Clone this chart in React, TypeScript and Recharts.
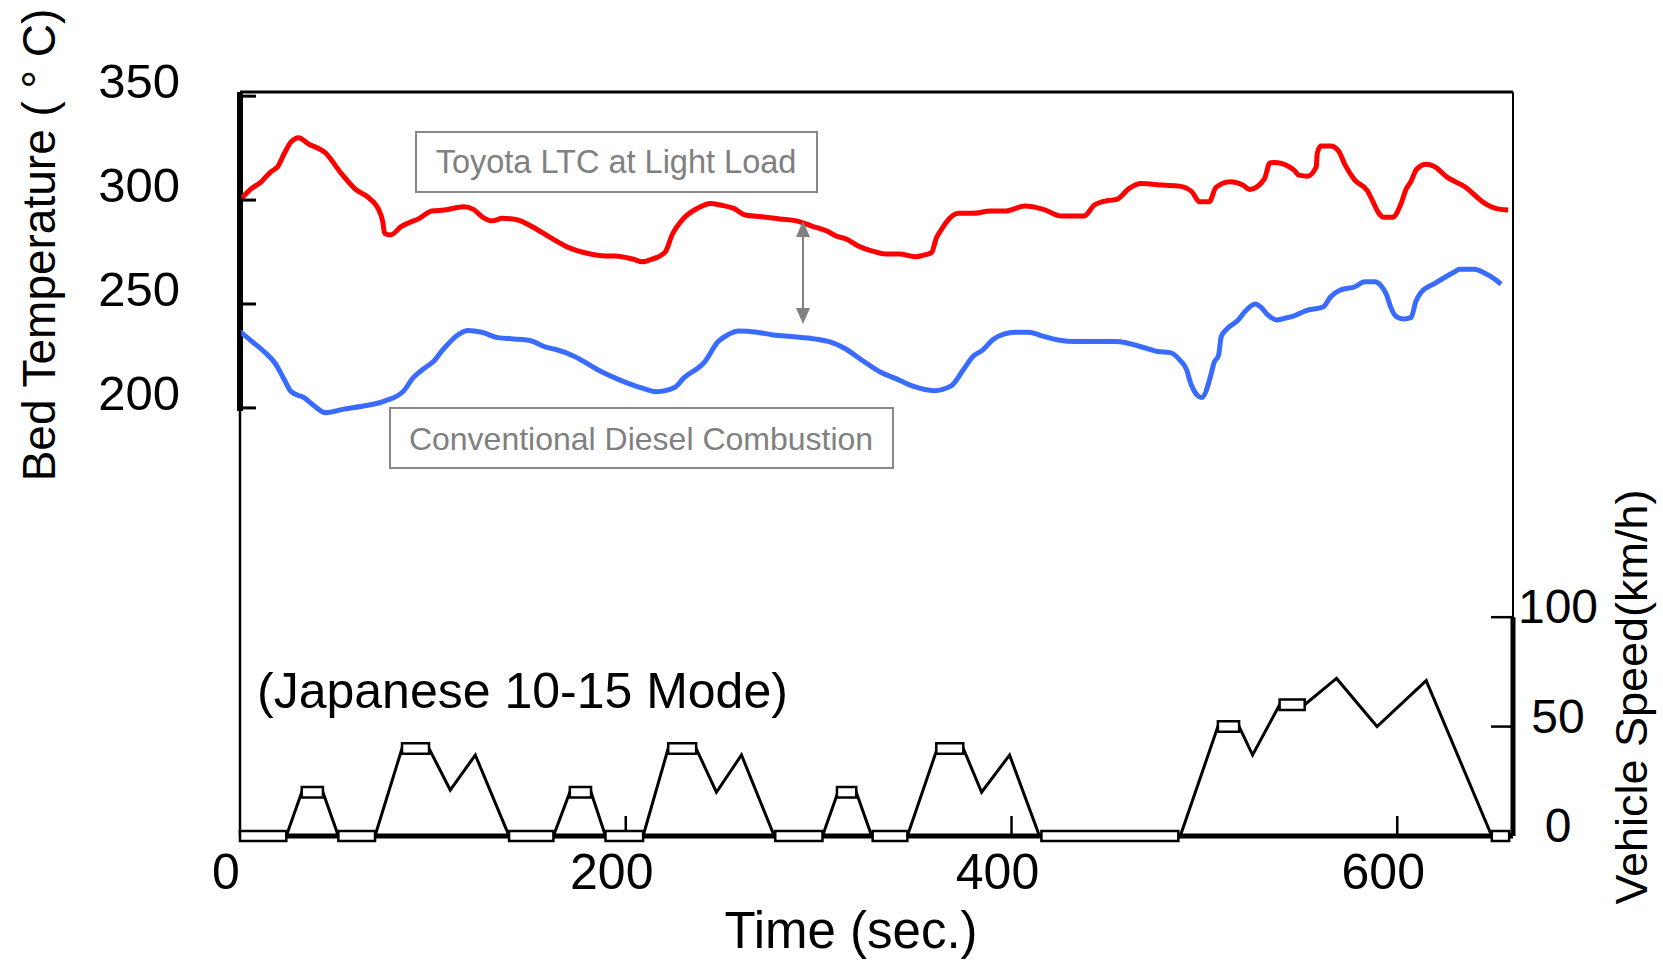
import React from 'react';
import {
  ComposedChart,
  Line,
  XAxis,
  YAxis,
  ReferenceLine,
  ReferenceArea,
} from 'recharts';

const FONT = '"Liberation Sans", Arial, sans-serif';

const TIME_TICKS = [0, 200, 400, 600];
const TEMP_TICKS = [200, 250, 300, 350];
const SPEED_TICKS = [0, 50, 100];

// [time (s), bed temperature (°C)]
const LTC_TRACE: [number, number][] = [
  [0, 300], [5, 304.8], [11, 308.8], [16, 313.6], [19.5, 316], [23, 322.5], [26.5, 328], [30.5, 330],
  [35, 327.3], [44.5, 322.5], [52.5, 312.8], [60, 305.1], [66, 301.6], [72, 295.2], [74, 289.6], [75, 284],
  [78, 283.2], [83.5, 287.2], [93, 291.2], [99.5, 294.7], [106, 295.2], [116, 296.8], [121, 295.5], [126, 291.7],
  [131, 290], [136, 291.2], [144, 290.4], [151.5, 287.2], [161, 281.9], [170.5, 277.1], [180, 274.4], [189.5, 273.1],
  [194.5, 273.1], [204, 271.5], [208.5, 270.3], [213.5, 271.5], [220.5, 275.1], [224, 283.2], [230, 291.2], [237, 296],
  [244, 298.4], [249, 297.6], [256, 296], [262, 292.8], [270.5, 292], [280, 290.9], [288.5, 290], [296.5, 287.5],
  [304, 285.2], [310, 282.4], [313.5, 281.6], [320.5, 277.9], [327.5, 275.6], [335, 274], [342, 274], [350, 272.7],
  [354, 273.4], [358.5, 274.7], [361, 281.6], [363.5, 285.6], [366, 289.1], [372.5, 293.6], [380, 293.6], [389, 294.7],
  [396.5, 294.7], [407, 297.1], [416.5, 295.5], [426, 292.3], [437.5, 292.3], [443, 297.6], [449.5, 299.7], [454.5, 300.3],
  [461, 305.6], [467, 308], [478.5, 307.2], [487, 306.7], [493.5, 304], [497.5, 299.2], [502.5, 299.2], [506, 306.1],
  [513.5, 308.8], [520, 307.2], [523.5, 305.1], [531, 310], [534, 317.9], [536.5, 318.1], [546.5, 314.4], [549, 312],
  [553.5, 311.5], [558, 316], [558.5, 322.5], [560.5, 326], [565.5, 326], [569.5, 323.7], [573, 316.8], [578, 309.6],
  [584.5, 304.5], [587, 300], [590.5, 293.6], [593, 291.7], [597.5, 291.7], [602, 298.4], [604.5, 305.1], [607, 308.8],
  [610, 314.8], [615, 317.2], [619, 316.3], [626, 310.9], [635, 306.4], [645, 298.7], [651, 296], [657.5, 295.2],
];

const CONV_TRACE: [number, number][] = [
  [0, 236.7], [6.3, 231.9], [13.4, 226.3], [18.2, 221.5], [23, 213.5], [26.5, 207.8], [33.6, 204.7], [38.4, 201],
  [44.4, 197.7], [53.9, 199.4], [64.6, 201], [75.3, 203.4], [84.9, 208.2], [89.6, 214.3], [95.6, 219.1], [100.3, 222.3],
  [105.1, 227.9], [113.4, 235.4], [118.2, 237.2], [125.3, 236.4], [133.7, 233.8], [142, 233.2], [150.3, 232.4], [158.6, 229.2],
  [163.4, 228.2], [172.9, 225], [187.2, 217.5], [196.7, 213.5], [208.6, 209.5], [215.8, 207.8], [225.3, 209.8], [230, 214.3],
  [240.8, 222], [247.9, 231.9], [252.7, 235.1], [258.6, 237], [268.1, 236.4], [276.5, 235.1], [286, 234.3], [297.9, 233.2],
  [306.3, 231.6], [313.4, 228.7], [322.9, 222.7], [332.4, 217], [339.5, 214.3], [348.5, 210.6], [359.9, 208.3], [368.7, 210.6],
  [375, 218.3], [380, 224.7], [385.1, 227.9], [390.6, 233], [396.4, 235.6], [401.5, 236.4], [409.1, 236.4], [415.3, 234.8],
  [424.2, 232.7], [433, 231.9], [454.4, 231.9], [465.8, 229.8], [475.9, 227.1], [482.2, 226.6], [487.2, 223.1], [491, 217.9],
  [492.3, 213.5], [496.1, 206.3], [498.6, 205], [503.6, 216.7], [504.9, 221.5], [507.4, 225.5], [508.7, 234.3], [511.2, 237.5],
  [517.5, 242.3], [521.3, 246.6], [526.3, 250], [529.4, 248.4], [532.6, 245], [537.7, 242.3], [541.5, 243.1], [545.3, 243.9],
  [552.8, 246.8], [561.7, 248.7], [565.5, 253.5], [570.5, 256.7], [578.1, 258.3], [583.1, 260.7], [588.2, 260.7], [592, 258.3],
  [594.5, 254.3], [596.5, 248.7], [599.5, 243.9], [603.3, 242.8], [607.1, 243.4], [609.6, 251.1], [612.2, 255.4], [619.7, 260],
  [629.8, 265.5], [632.3, 266.7], [639.9, 266.7], [644.9, 265], [651.2, 261.5], [653.8, 259.5],
];

// [time (s), vehicle speed (km/h)] - 10-15 mode
const SPEED_TRACE: [number, number][] = [
  [0, 0], [24, 0], [32, 20], [43, 20], [51, 0], [70, 0], [84, 40], [98, 40], [109, 21], [122, 37], [139.5, 0],
  [162.5, 0], [171, 20], [182, 20], [189.5, 0], [209, 0], [222, 40], [236.5, 40], [247, 20], [260, 37], [277, 0],
  [302, 0], [310, 20], [319.5, 20], [327.5, 0], [346, 0], [361.5, 40], [375, 40], [384.5, 20], [399, 37], [414.5, 0],
  [487.5, 0], [507, 50], [518, 50], [525, 37], [539, 60], [552, 60], [568.5, 72], [589.5, 50], [615, 71], [649, 0], [658, 0],
];

// idle periods [start, end] and cruise periods [start, end, speed]
const IDLE_SEGMENTS: [number, number][] = [
  [0, 24], [51, 70], [139.5, 162.5], [189.5, 209], [277.5, 302], [328, 346], [415.5, 486.5], [649, 658],
];
const CRUISE_SEGMENTS: [number, number, number][] = [
  [32, 43, 20], [84, 98, 40], [171, 182, 20], [222, 236.5, 40], [309.5, 319.5, 20], [361, 375, 40], [507, 518, 50], [539, 552, 60],
];

const toRows = (trace: [number, number][]) => trace.map(([t, v]) => ({ t, v }));
const ltcData = toRows(LTC_TRACE);
const convData = toRows(CONV_TRACE);
const speedData = toRows(SPEED_TRACE);

const PLOT_LEFT = 240;
const PLOT_RIGHT = 1513;
const PLOT_BOTTOM = 836;

const TempTick = ({ y, payload }: any) => (
  <g>
    <line x1={PLOT_LEFT} x2={PLOT_LEFT + 16} y1={y} y2={y} stroke="#000" strokeWidth={3} />
    <text x={180} y={y + 2} textAnchor="end" fontSize={49} fontFamily={FONT} fill="#000">
      {payload.value}
    </text>
  </g>
);

const SpeedTick = ({ y, payload }: any) => (
  <g>
    {payload.value !== 0 && (
      <line x1={PLOT_RIGHT - 22} x2={PLOT_RIGHT} y1={y} y2={y} stroke="#000" strokeWidth={2.5} />
    )}
    <text x={1558} y={y + 6} textAnchor="middle" fontSize={48} fontFamily={FONT} fill="#000">
      {payload.value}
    </text>
  </g>
);

const TimeTick = ({ x, payload }: any) => (
  <g>
    {payload.value !== 0 && (
      <line x1={x} x2={x} y1={PLOT_BOTTOM} y2={PLOT_BOTTOM - 20} stroke="#000" strokeWidth={2.5} />
    )}
    <text x={x - 14} y={889} textAnchor="middle" fontSize={50} fontFamily={FONT} fill="#000">
      {payload.value}
    </text>
  </g>
);

const boxStyle = {
  yAxisId: 'speed',
  fill: '#fff',
  fillOpacity: 1,
  stroke: '#000',
  strokeWidth: 2.5,
  ifOverflow: 'visible' as const,
  zIndex: 2000,
};

export default function App() {
  return (
    <div style={{ position: 'absolute', left: 0, top: 0, width: 1663, height: 960, background: '#fff' }}>
      <ComposedChart width={1663} height={960} margin={{ top: 90, right: 90, bottom: 84, left: 180 }}>
        <XAxis
          dataKey="t"
          type="number"
          domain={[0, 660]}
          allowDataOverflow
          ticks={TIME_TICKS}
          tick={TimeTick}
          tickLine={false}
          axisLine={{ stroke: '#000', strokeWidth: 5 }}
          height={40}
        />
        <XAxis
          xAxisId="top"
          orientation="top"
          type="number"
          domain={[0, 660]}
          tick={false}
          tickLine={false}
          axisLine={{ stroke: '#000', strokeWidth: 3 }}
          height={2}
        />
        <YAxis
          yAxisId="temp"
          orientation="left"
          type="number"
          domain={[-6, 352]}
          allowDataOverflow
          ticks={TEMP_TICKS}
          tick={TempTick}
          tickLine={false}
          axisLine={{ stroke: '#000', strokeWidth: 2.5 }}
          width={60}
        />
        <YAxis
          yAxisId="speed"
          orientation="right"
          type="number"
          domain={[0, 340]}
          allowDataOverflow
          ticks={SPEED_TICKS}
          tick={SpeedTick}
          tickLine={false}
          axisLine={{ stroke: '#000', strokeWidth: 2 }}
          width={60}
        />
        <ReferenceLine yAxisId="temp" segment={[{ x: 0, y: 198.5 }, { x: 0, y: 352 }]} stroke="#000" strokeWidth={6} />
        <ReferenceLine yAxisId="speed" segment={[{ x: 660, y: 0 }, { x: 660, y: 100 }]} stroke="#000" strokeWidth={5} />
        <Line
          yAxisId="speed"
          data={speedData}
          dataKey="v"
          type="linear"
          stroke="#000"
          strokeWidth={3}
          dot={false}
          isAnimationActive={false}
        />
        <Line
          yAxisId="temp"
          data={ltcData}
          dataKey="v"
          type="monotone"
          stroke="#ff0000"
          strokeWidth={5}
          dot={false}
          isAnimationActive={false}
        />
        <Line
          yAxisId="temp"
          data={convData}
          dataKey="v"
          type="monotone"
          stroke="#3a6bff"
          strokeWidth={5}
          dot={false}
          isAnimationActive={false}
        />
        {IDLE_SEGMENTS.map(([a, b]) => (
          <ReferenceArea key={`idle-${a}`} {...boxStyle} x1={a} x2={b} y1={-2.3} y2={2.3} />
        ))}
        {CRUISE_SEGMENTS.map(([a, b, v]) => (
          <ReferenceArea key={`cruise-${a}`} {...boxStyle} x1={a} x2={b} y1={v - 2.4} y2={v + 2.4} />
        ))}
      </ComposedChart>
      <svg
        width={1663}
        height={960}
        style={{ position: 'absolute', left: 0, top: 0, pointerEvents: 'none' }}
        fontFamily={FONT}
      >
        <text transform="translate(55,245) rotate(-90)" textAnchor="middle" fontSize={46} fill="#000">
          Bed Temperature ( ° C)
        </text>
        <text transform="translate(1647,697) rotate(-90)" textAnchor="middle" fontSize={45} fill="#000">
          Vehicle Speed(km/h)
        </text>
        <text x={851} y={948} textAnchor="middle" fontSize={51} fill="#000">
          Time (sec.)
        </text>
        <text x={257} y={708} fontSize={50} fill="#000">
          (Japanese 10-15 Mode)
        </text>
        <rect x={416} y={132} width={401} height={60} fill="#fff" stroke="#888" strokeWidth={2} />
        <text x={616} y={173} textAnchor="middle" fontSize={32.5} fill="#808080">
          Toyota LTC at Light Load
        </text>
        <rect x={390} y={408} width={503} height={60} fill="#fff" stroke="#888" strokeWidth={2} />
        <text x={641} y={450} textAnchor="middle" fontSize={32} fill="#808080">
          Conventional Diesel Combustion
        </text>
        <line x1={803} x2={803} y1={232} y2={313} stroke="#808080" strokeWidth={2} />
        <polygon points="803,221 796,237 810,237" fill="#808080" />
        <polygon points="803,324 796,308 810,308" fill="#808080" />
      </svg>
    </div>
  );
}
